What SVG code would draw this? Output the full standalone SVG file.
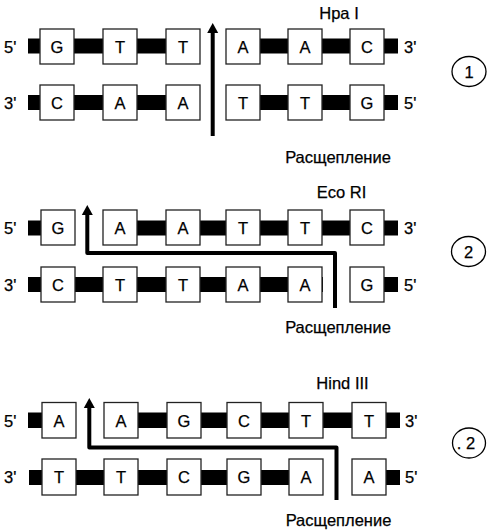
<svg xmlns="http://www.w3.org/2000/svg" width="490" height="531" viewBox="0 0 490 531">
<defs>
<style>
.bar{fill:#000}
.box{fill:#fff;stroke:#222;stroke-width:1.3}
.t{font-family:"Liberation Sans",Arial,sans-serif;font-size:16.5px;fill:#000;stroke:#000;stroke-width:0.25}
.c{text-anchor:middle}
.cut{fill:none;stroke:#000;stroke-width:4;stroke-linejoin:round}
.ring{fill:#fff;stroke:#000;stroke-width:1.3}
</style>
<marker id="ah" markerUnits="userSpaceOnUse" markerWidth="12" markerHeight="12" refX="3" refY="6" orient="auto">
<path d="M0,0.5 L10,6 L0,11.5 Z" fill="#000"/>
</marker>
</defs>
<rect width="490" height="531" fill="#fff"/>

<!-- Section 1: Hpa I -->
<g id="hpa1-top">
<rect class="bar" x="28" y="38.5" width="172" height="15"/>
<rect class="bar" x="226" y="38.5" width="172" height="15"/>
<rect class="box" x="40" y="29" width="34" height="35"/><text class="t c" x="57" y="52.5">G</text>
<rect class="box" x="103" y="29" width="34" height="35"/><text class="t c" x="120" y="52.5">T</text>
<rect class="box" x="166" y="29" width="34" height="35"/><text class="t c" x="183" y="52.5">T</text>
<rect class="box" x="226" y="29" width="34" height="35"/><text class="t c" x="243" y="52.5">A</text>
<rect class="box" x="288" y="29" width="34" height="35"/><text class="t c" x="305" y="52.5">A</text>
<rect class="box" x="350" y="29" width="34" height="35"/><text class="t c" x="367" y="52.5">C</text>
<text class="t" x="4" y="52.5">5'</text><text class="t" x="404" y="52.5">3'</text>
</g>
<g id="hpa1-bottom">
<rect class="bar" x="28" y="95" width="172" height="15"/>
<rect class="bar" x="226" y="95" width="172" height="15"/>
<rect class="box" x="40" y="85" width="34" height="35"/><text class="t c" x="57" y="108.5">C</text>
<rect class="box" x="103" y="85" width="34" height="35"/><text class="t c" x="120" y="108.5">A</text>
<rect class="box" x="166" y="85" width="34" height="35"/><text class="t c" x="183" y="108.5">A</text>
<rect class="box" x="226" y="85" width="34" height="35"/><text class="t c" x="243" y="108.5">T</text>
<rect class="box" x="288" y="85" width="34" height="35"/><text class="t c" x="305" y="108.5">T</text>
<rect class="box" x="350" y="85" width="34" height="35"/><text class="t c" x="367" y="108.5">G</text>
<text class="t" x="4" y="108.5">3'</text><text class="t" x="404" y="108.5">5'</text>
</g>
<g id="hpa1-labels">
<text class="t c" x="339" y="19">Hpa I</text>
<text class="t c" x="338" y="162.5">Расщепление</text>
</g>
<g id="mark1">
<ellipse class="ring" cx="469" cy="71.5" rx="17" ry="15"/>
<text class="t c" x="469" y="77.5">1</text>
</g>

<!-- Section 2: Eco RI -->
<g id="eco-top">
<rect class="bar" x="28" y="220.5" width="14" height="15"/>
<rect class="bar" x="103" y="220.5" width="295" height="15"/>
<rect class="box" x="41" y="210" width="34" height="35"/><text class="t c" x="58" y="233.5">G</text>
<rect class="box" x="103" y="210" width="34" height="35"/><text class="t c" x="120" y="233.5">A</text>
<rect class="box" x="166" y="210" width="34" height="35"/><text class="t c" x="183" y="233.5">A</text>
<rect class="box" x="226" y="210" width="34" height="35"/><text class="t c" x="243" y="233.5">T</text>
<rect class="box" x="288" y="210" width="34" height="35"/><text class="t c" x="305" y="233.5">T</text>
<rect class="box" x="350" y="210" width="34" height="35"/><text class="t c" x="367" y="233.5">C</text>
<text class="t" x="4" y="233.5">5'</text><text class="t" x="404" y="233.5">3'</text>
</g>
<g id="eco-bottom">
<rect class="bar" x="28" y="277" width="295" height="15"/>
<rect class="bar" x="384" y="277" width="14" height="15"/>
<rect class="box" x="41" y="267" width="34" height="35"/><text class="t c" x="58" y="290.5">C</text>
<rect class="box" x="103" y="267" width="34" height="35"/><text class="t c" x="120" y="290.5">T</text>
<rect class="box" x="166" y="267" width="34" height="35"/><text class="t c" x="183" y="290.5">T</text>
<rect class="box" x="226" y="267" width="34" height="35"/><text class="t c" x="243" y="290.5">A</text>
<rect class="box" x="288" y="267" width="34" height="35"/><text class="t c" x="305" y="290.5">A</text>
<rect class="box" x="350" y="267" width="34" height="35"/><text class="t c" x="367" y="290.5">G</text>
<text class="t" x="4" y="290.5">3'</text><text class="t" x="404" y="290.5">5'</text>
</g>
<g id="eco-labels">
<text class="t c" x="341.5" y="198">Eco RI</text>
<text class="t c" x="338" y="333">Расщепление</text>
</g>
<g id="mark2">
<ellipse class="ring" cx="468.5" cy="251.5" rx="17" ry="15"/>
<text class="t c" x="468.5" y="257.5">2</text>
</g>

<!-- Section 3: Hind III -->
<g id="hind-top">
<rect class="bar" x="28" y="412.5" width="14" height="15.5"/>
<rect class="bar" x="104" y="412.5" width="296" height="15.5"/>
<rect class="box" x="42" y="402.5" width="34" height="35.5"/><text class="t c" x="59" y="426.5">A</text>
<rect class="box" x="104" y="402.5" width="34" height="35.5"/><text class="t c" x="121" y="426.5">A</text>
<rect class="box" x="167" y="402.5" width="34" height="35.5"/><text class="t c" x="184" y="426.5">G</text>
<rect class="box" x="227" y="402.5" width="34" height="35.5"/><text class="t c" x="244" y="426.5">C</text>
<rect class="box" x="289" y="402.5" width="34" height="35.5"/><text class="t c" x="306" y="426.5">T</text>
<rect class="box" x="352" y="402.5" width="34" height="35.5"/><text class="t c" x="369" y="426.5">T</text>
<text class="t" x="4" y="426.5">5'</text><text class="t" x="405" y="426.5">3'</text>
</g>
<g id="hind-bottom">
<rect class="bar" x="29" y="470" width="294" height="15"/>
<rect class="bar" x="386" y="470" width="14" height="15"/>
<rect class="box" x="42" y="459" width="34" height="36"/><text class="t c" x="59" y="483">T</text>
<rect class="box" x="104" y="459" width="34" height="36"/><text class="t c" x="121" y="483">T</text>
<rect class="box" x="167" y="459" width="34" height="36"/><text class="t c" x="184" y="483">C</text>
<rect class="box" x="227" y="459" width="34" height="36"/><text class="t c" x="244" y="483">G</text>
<rect class="box" x="289" y="459" width="34" height="36"/><text class="t c" x="306" y="483">A</text>
<rect class="box" x="352" y="459" width="34" height="36"/><text class="t c" x="369" y="483">A</text>
<text class="t" x="4" y="483">3'</text><text class="t" x="405" y="483">5'</text>
</g>
<g id="hind-labels">
<text class="t c" x="342.5" y="389">Hind III</text>
<text class="t c" x="338.5" y="525.5">Расщепление</text>
</g>
<g id="mark3">
<ellipse class="ring" cx="469" cy="443" rx="16.5" ry="15"/>
<text class="t c" x="466" y="449">. 2</text>
</g>

<!-- Cleavage connectors -->
<g id="connectors">
<path class="cut" d="M212.7,136 V30" marker-end="url(#ah)"/>
<path class="cut" d="M335,308 V253 H87.3 V212" marker-end="url(#ah)"/>
<path class="cut" d="M336.5,500 V447.5 H89.3 V405" marker-end="url(#ah)"/>
</g>
</svg>
